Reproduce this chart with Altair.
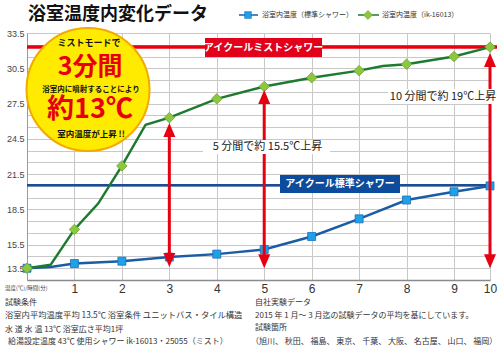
import altair as alt
import pandas as pd

# ---------------- data ----------------
minutes_std = [0, 0.5, 1, 2, 3, 4, 5, 6, 7, 8, 9, 10]
temp_std = [13.5, 13.6, 13.9, 14.1, 14.45, 14.7, 15.1, 16.2, 17.7, 19.3, 20.0, 20.5]

minutes_mist = [0, 0.5, 1, 1.5, 2, 2.5, 3, 4, 5, 6, 7, 7.5, 8, 9, 10]
temp_mist = [13.5, 13.8, 16.8, 19.0, 22.2, 25.7, 26.3, 27.9, 28.95, 29.7, 30.3, 30.7, 30.85, 31.5, 32.3]

x_ticks = [0, 1, 2, 3, 4, 5, 6, 7, 8, 9, 10]
y_labels = [13.5, 15.5, 18.5, 21.5, 24.5, 27.5, 30.5, 33.5]
y_grid = [13.5, 14.5, 15.5, 16.5, 17.5, 18.5, 19.5, 20.5, 21.5, 22.5, 23.5,
          24.5, 25.5, 26.5, 27.5, 28.5, 29.5, 30.5, 31.5, 32.5, 33.5]

mist_level = [32.3]
std_level = [20.55]

arrow_minutes = [3, 5, 10]
arrow_top = [25.85, 28.65, 31.8]
arrow_bottom = [13.6, 13.5, 13.5]

# ---------------- styles ----------------
W, H = 463, 247
JP = "Noto Sans CJK JP"
RED = "#e60012"
BLUE_LINE = "#1c5ba6"
BLUE_REF = "#194d98"
GREEN_LINE = "#1e7a2f"
GRID = "#c8c8c8"

X = alt.Scale(domain=[0, 9, 10], range=[0, 427, 463])
Y = alt.Scale(domain=[12.5, 33.5], nice=False, zero=False)

label_list = ",".join(str(v) for v in y_labels)

xaxis = alt.Axis(values=x_ticks, labelExpr="datum.value == 0 ? '' : datum.label",
                 grid=True, gridColor=GRID, gridWidth=1, ticks=False,
                 domainColor="#8a8a8a", domainWidth=1.5,
                 labelFont="Liberation Sans", labelFontSize=12, labelColor="#333333",
                 labelPadding=3, title=None, labelFlush=False, labelOverlap=False)
yaxis = alt.Axis(values=y_grid,
                 labelExpr="indexof([" + label_list + "], datum.value) >= 0 ? format(datum.value, '.1f') : ''",
                 grid=True, gridColor=GRID, gridWidth=1, ticks=False,
                 domainColor="#9a9a9a", domainWidth=1, labelFont="Liberation Sans",
                 labelFontSize=9, labelColor="#444444", labelPadding=3, title=None,
                 labelOverlap=False, labelFlush=False)


def xq(field):
    return alt.X(field, scale=X, axis=xaxis)


def yq(field):
    return alt.Y(field, scale=Y, axis=yaxis)


df_std = pd.DataFrame({"m": minutes_std, "t": temp_std})
df_mist = pd.DataFrame({"m": minutes_mist, "t": temp_mist})
df_arr = pd.DataFrame({"m": arrow_minutes, "top": arrow_top, "bot": arrow_bottom})

one = pd.DataFrame({"s": [""]})


def txt(text, x, y, size, color="#222222", weight="normal", align="left", font=JP):
    return alt.Chart(pd.DataFrame({"s": [text]})).mark_text(
        align=align, baseline="middle", font=font, fontSize=size,
        fontWeight=weight, color=color
    ).encode(text="s:N", x=alt.value(x), y=alt.value(y))


def box(x, x2, y, y2, fill):
    return alt.Chart(one).mark_rect(color=fill, opacity=1).encode(
        x=alt.value(x), x2=alt.value(x2), y=alt.value(y), y2=alt.value(y2))


# pixel helpers relative to plot origin (27, 33)
def px(v):
    return v - 27


def py(v):
    return v - 33


# ---------------- layers ----------------
std_ref = alt.Chart(pd.DataFrame({"m": [0], "m2": [10], "v": std_level})).mark_rule(
    color=BLUE_REF, strokeWidth=2.5).encode(x=xq("m:Q"), x2="m2:Q", y=yq("v:Q"))
mist_ref = alt.Chart(pd.DataFrame({"v": mist_level})).mark_rule(color=RED, strokeWidth=3.5).encode(
    y=yq("v:Q"), x=alt.value(0), x2=alt.value(W + 7))

std_line = alt.Chart(df_std).mark_line(color=BLUE_LINE, strokeWidth=2.5).encode(
    x=xq("m:Q"), y=yq("t:Q"))
mist_line = alt.Chart(df_mist).mark_line(color=GREEN_LINE, strokeWidth=2.5).encode(
    x=xq("m:Q"), y=yq("t:Q"))

std_pts = alt.Chart(df_std).transform_filter("datum.m % 1 == 0").mark_point(
    shape="square", filled=True, color="#1ea1e6", stroke="#1a70b8", strokeWidth=0.8,
    size=64, opacity=1).encode(x=xq("m:Q"), y=yq("t:Q"))
mist_pts = alt.Chart(df_mist).transform_filter("datum.m % 1 == 0").mark_point(
    shape="diamond", filled=True, color="#8dc63f", stroke="#6aa52a", strokeWidth=0.8,
    size=110, opacity=1).encode(x=xq("m:Q"), y=yq("t:Q"))

shaft = alt.Chart(df_arr).transform_calculate(
    lo="datum.bot + 0.9", hi="datum.top - 0.9"
).mark_rule(color=RED, strokeWidth=3).encode(
    x=xq("m:Q"), y=yq("lo:Q"), y2="hi:Q")
head_up = alt.Chart(df_arr).mark_point(
    shape="M 0 0 L 0.6 1.4 L -0.6 1.4 Z", size=400, filled=True, color=RED,
    strokeWidth=0, opacity=1).encode(x=xq("m:Q"), y=yq("top:Q"))
head_down = alt.Chart(df_arr).mark_point(
    shape="M 0 0 L 0.6 -1.4 L -0.6 -1.4 Z", size=400, filled=True, color=RED,
    strokeWidth=0, opacity=1).encode(x=xq("m:Q"), y=yq("bot:Q"))

# annotations
ann5_box = box(px(203), px(330), py(140), py(154), "white")
ann5 = txt("5 分間で約 15.5℃上昇", px(267.5), py(147), 11, align="center")
ann10_box = box(px(388), px(497), py(89), py(104), "white")
ann10 = txt("10 分間で約 19℃上昇", px(443), py(96.5), 11, align="center")

red_box = box(px(205), px(322), py(38), py(57), "#e2001a")
red_lbl = txt("アイクールミストシャワー", px(263.5), py(47.5), 10, color="white",
              weight="bold", align="center")
blue_box = box(px(280), px(400), py(175), py(193), "#0d4c9c")
blue_lbl = txt("アイクール標準シャワー", px(340), py(184), 10, color="white",
               weight="bold", align="center")

# yellow badge
circle = alt.Chart(one).mark_point(
    shape="circle", size=123 * 123, filled=True, color="#ffeb00", stroke="#f2a900",
    strokeWidth=2, opacity=1).encode(x=alt.value(px(88)), y=alt.value(py(89.5)))
c1 = txt("ミストモードで", px(89), py(42.5), 9, color="#111111", weight="bold", align="center")
c2 = txt("3分間", px(90), py(67), 25, color=RED, weight="bold", align="center")
c3 = txt("浴室内に噴射することにより", px(91), py(89.5), 7.5, color="#111111", weight="bold", align="center")
c4 = txt("約13℃", px(90), py(109.5), 27, color=RED, weight="bold", align="center")
c5 = txt("室内温度が上昇 !!", px(91), py(133.5), 8.5, color="#111111", weight="bold", align="center")

# title
title = txt("浴室温度内変化データ", px(28), py(15), 18, color="#111111", weight="bold")

# legend
leg_std_line = alt.Chart(one).mark_rule(color=BLUE_LINE, strokeWidth=1.5).encode(
    x=alt.value(px(239)), x2=alt.value(px(258)), y=alt.value(py(15)))
leg_std_pt = alt.Chart(one).mark_point(shape="square", filled=True, color="#1ea1e6",
                                       stroke="#1a70b8", strokeWidth=0.6, size=45, opacity=1).encode(
    x=alt.value(px(248)), y=alt.value(py(15)))
leg_std_txt = txt("浴室内温度（標準シャワー）", px(262), py(15), 7, color="#333333")
leg_mist_line = alt.Chart(one).mark_rule(color=GREEN_LINE, strokeWidth=1.5).encode(
    x=alt.value(px(358)), x2=alt.value(px(379)), y=alt.value(py(15)))
leg_mist_pt = alt.Chart(one).mark_point(shape="diamond", filled=True, color="#8dc63f",
                                        stroke="#6aa52a", strokeWidth=0.6, size=80, opacity=1).encode(
    x=alt.value(px(368)), y=alt.value(py(15)))
leg_mist_txt = txt("浴室内温度（ik-16013）", px(382), py(15), 7, color="#333333")

# axis caption & footer
axcap = txt("温度(℃)/時間(分)", px(5), py(288), 5.5, color="#444444")
f1 = txt("試験条件", px(5), py(303), 8, color="#333333")
f2 = txt("浴室内平均温度平均 13.5℃  浴室条件 ユニットバス・タイル構造", px(5), py(315.5), 8.3, color="#333333")
f3 = txt("水 道 水 温  13℃  浴室広さ平均1坪", px(5), py(329.5), 8, color="#333333")
f4 = txt("給湯設定温度  43℃  使用シャワー ik-16013・25055（ミスト）", px(8), py(342), 8, color="#333333")
g1 = txt("自社実験データ", px(255), py(303), 8, color="#333333")
g2 = txt("2015 年 1 月～ 3 月迄の試験データの平均を基にしています。", px(255), py(315.5), 8, color="#333333")
g3 = txt("試験箇所", px(255), py(327.5), 8, color="#333333")
g4 = txt("（旭川、 秋田、 福島、 東京、 千葉、 大阪、 名古屋、 山口、 福岡）", px(251), py(342), 8, color="#333333")

chart = alt.layer(
    std_ref, mist_ref, std_line, mist_line, std_pts, mist_pts,
    shaft, head_up, head_down,
    ann5_box, ann5, ann10_box, ann10,
    red_box, red_lbl, blue_box, blue_lbl,
    circle, c1, c2, c3, c4, c5,
    title,
    leg_std_line, leg_std_pt, leg_std_txt, leg_mist_line, leg_mist_pt, leg_mist_txt,
    axcap, f1, f2, f3, f4, g1, g2, g3, g4,
).properties(
    width=W, height=H,
    autosize=alt.AutoSizeParams(type="none"),
    padding={"left": 27, "top": 33, "right": 10, "bottom": 71},
    background="white",
).configure_view(stroke=None)

chart.save("out.html", embed_options={"renderer": "svg", "actions": False})
